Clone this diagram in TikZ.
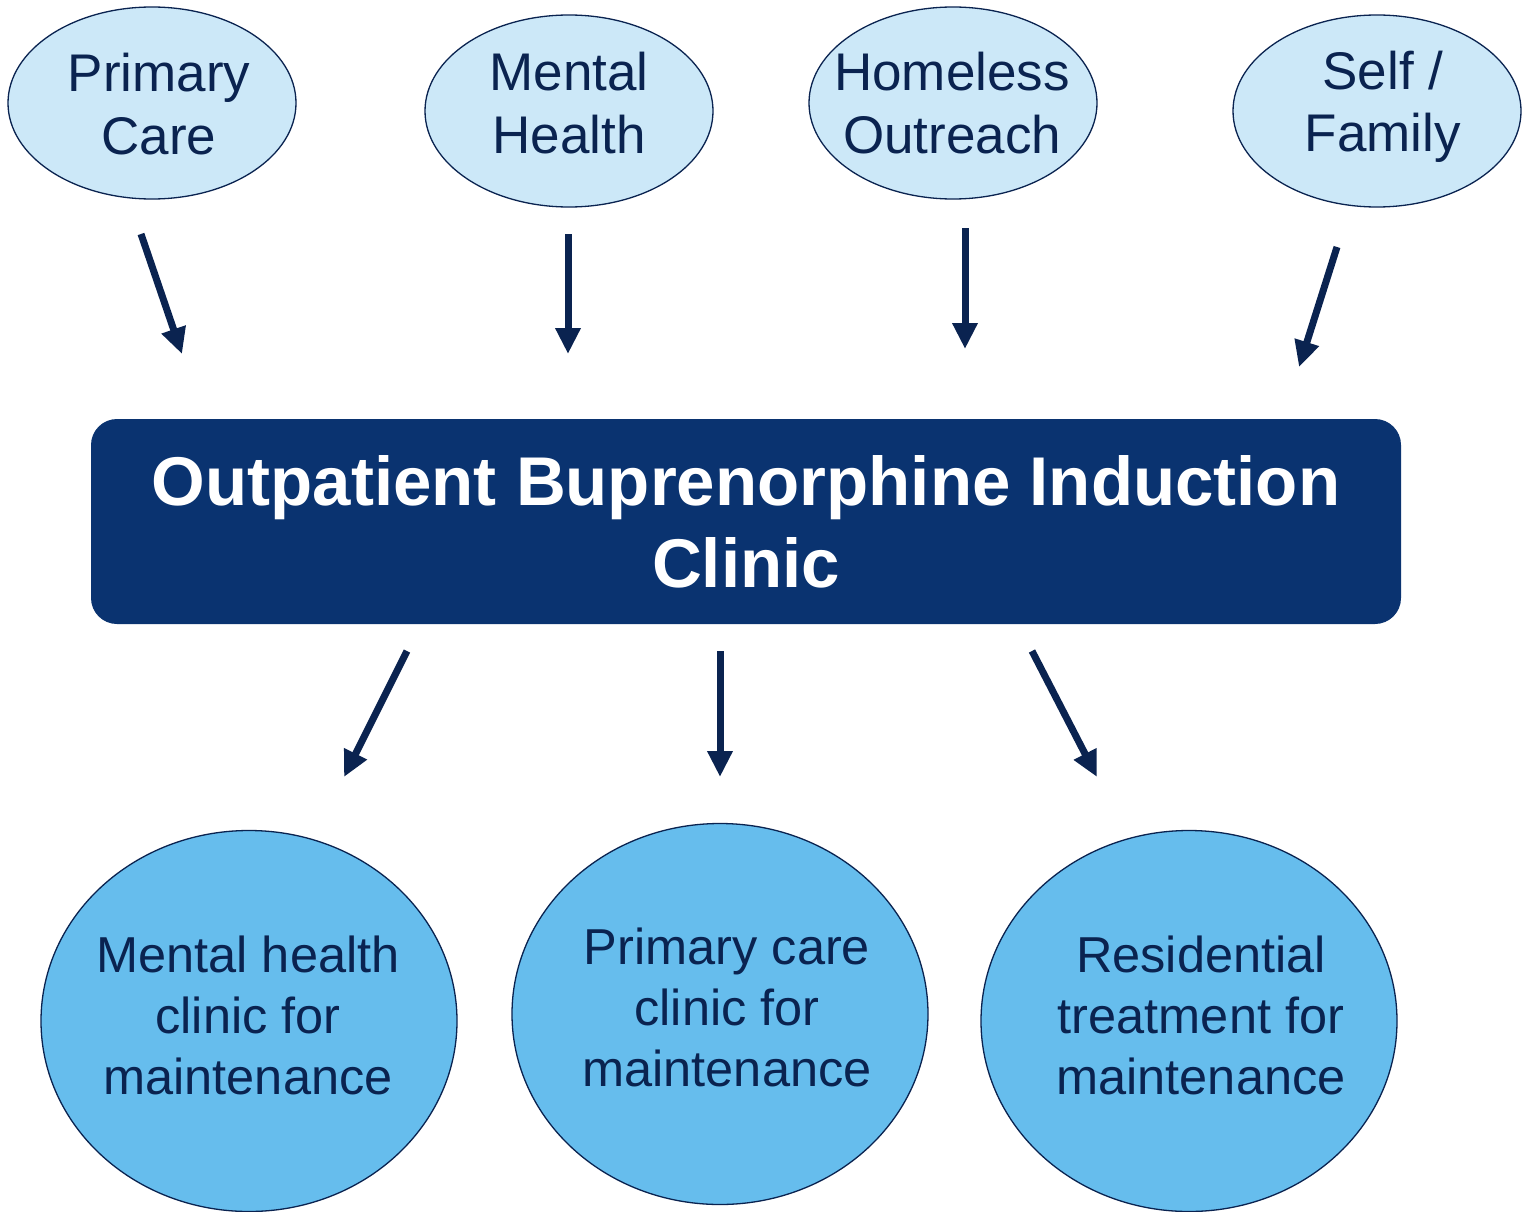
\documentclass[tikz,border=0pt]{standalone}
\usepackage{fontspec}
\setmainfont{Liberation Sans}
\usetikzlibrary{shapes.geometric,arrows.meta}
\definecolor{navy}{HTML}{0A2350}
\definecolor{boxnavy}{HTML}{0A3370}
\definecolor{lightblue}{HTML}{CCE8F8}
\definecolor{midblue}{HTML}{66BDED}
\tikzset{
  source/.style={ellipse, draw=navy, line width=1.3pt, fill=lightblue, minimum width=288pt, minimum height=192pt, inner sep=0pt},
  sourcetext/.style={align=center, inner sep=0pt, text=navy, font=\fontsize{53}{62.5}\selectfont},
  target/.style={ellipse, draw=navy, line width=1.3pt, fill=midblue, minimum width=416pt, minimum height=381pt, inner sep=0pt},
  targettext/.style={align=center, inner sep=0pt, text=navy, font=\fontsize{50.5}{61}\selectfont},
  clinicbox/.style={rectangle, rounded corners=26pt, fill=boxnavy, minimum width=1310pt, minimum height=205pt, inner sep=0pt, align=center, text=white, font=\bfseries\fontsize{69}{82}\selectfont},
  flow/.style={navy, line width=7pt, -{Triangle[length=26pt,width=24pt]}}
}
\begin{document}
\begin{tikzpicture}[x=1pt,y=-1pt]
\useasboundingbox[fill=white] (0,0) rectangle (1523,1212);
\node[source] (pc) at (152,103) {};
\node[source] (mh) at (569,111) {};
\node[source] (ho) at (953,103) {};
\node[source] (sf) at (1377,111) {};
\node[sourcetext] (pct) at ([shift={(7,1)}]pc.center) {Primary\\Care};
\node[sourcetext] (mht) at ([shift={(0,-8)}]mh.center) {Mental\\Health};
\node[sourcetext] (hot) at ([shift={(-1,0)}]ho.center) {Homeless\\Outreach};
\node[sourcetext] (sft) at ([shift={(6,-4)}]sf.center) {Self /\\Family};
\node[clinicbox] (clinic) at (746,521.5) {Outpatient Buprenorphine Induction\\Clinic};
\node[target] (mhc) at (249,1021) {};
\node[target] (pcc) at (720,1014) {};
\node[target] (res) at (1189,1021) {};
\node[targettext] (mhct) at ([shift={(-1,-6)}]mhc.center) {Mental health\\clinic for\\maintenance};
\node[targettext] (pcct) at ([shift={(7,-7)}]pcc.center) {Primary care\\clinic for\\maintenance};
\node[targettext] (rest) at ([shift={(12,-6)}]res.center) {Residential\\treatment for\\maintenance};
\coordinate (a1s) at (141,234); \coordinate (a1e) at (182,354);
\coordinate (a2s) at (568,234); \coordinate (a2e) at (568,354);
\coordinate (a3s) at (965,228); \coordinate (a3e) at (965,349);
\coordinate (a4s) at (1337,247); \coordinate (a4e) at (1299,367);
\coordinate (b1s) at (407,651); \coordinate (b1e) at (344,777);
\coordinate (b2s) at (720,651); \coordinate (b2e) at (720,777);
\coordinate (b3s) at (1032,651); \coordinate (b3e) at (1097,777);
\draw[flow] (a1s) -- (a1e);
\draw[flow] (a2s) -- (a2e);
\draw[flow] (a3s) -- (a3e);
\draw[flow] (a4s) -- (a4e);
\draw[flow] (b1s) -- (b1e);
\draw[flow] (b2s) -- (b2e);
\draw[flow] (b3s) -- (b3e);
\end{tikzpicture}
\end{document}
